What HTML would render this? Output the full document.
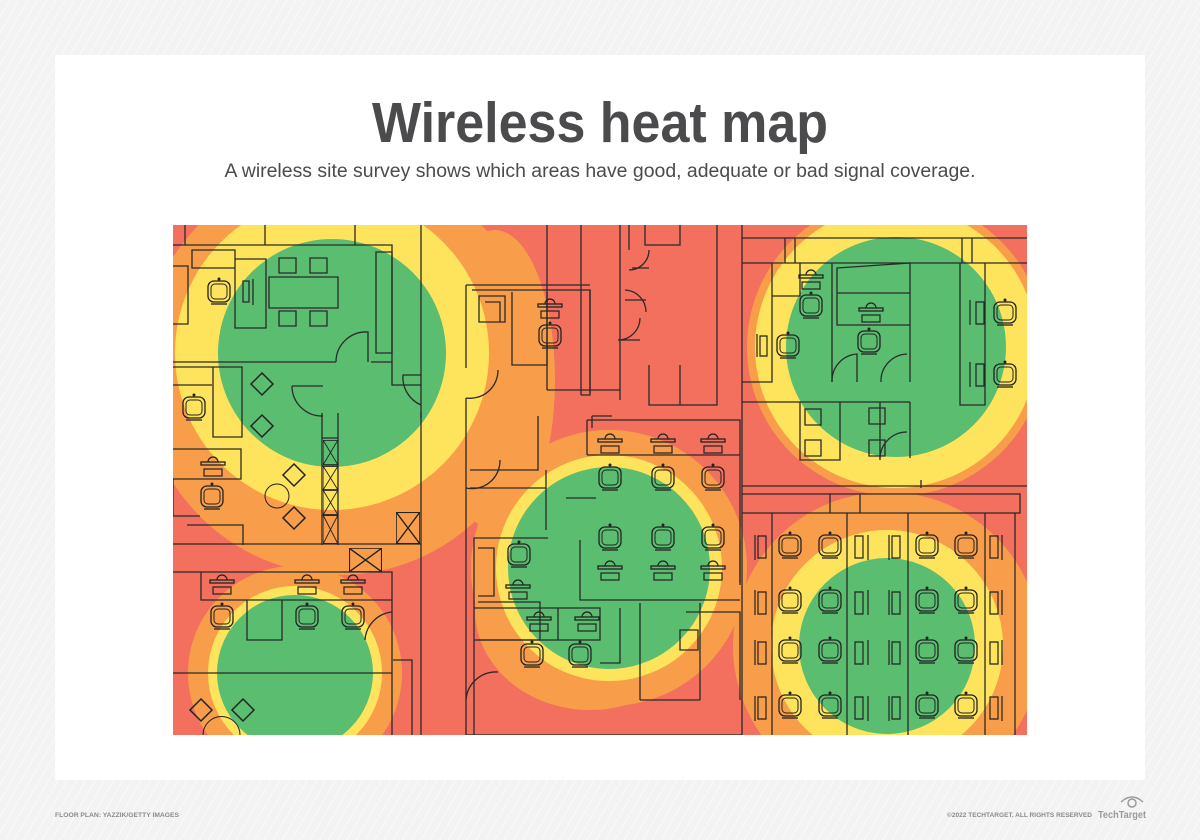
<!DOCTYPE html>
<html><head><meta charset="utf-8"><style>
html,body{margin:0;padding:0;width:1200px;height:840px;overflow:hidden;background:#f2f3f2;}
svg{display:block}
</style></head><body>
<svg width="1200" height="840" viewBox="0 0 1200 840" xmlns="http://www.w3.org/2000/svg">
<defs>
<pattern id="hatch" width="8" height="8" patternUnits="userSpaceOnUse" patternTransform="rotate(30)">
<rect width="8" height="8" fill="#f2f3f2"/><line x1="0" y1="0" x2="0" y2="8" stroke="#fafafa" stroke-width="2"/>
</pattern>
<clipPath id="mapclip"><rect x="173" y="225" width="854" height="510"/></clipPath>
<symbol id="chair" viewBox="-14 -14 28 28" overflow="visible">
<rect x="-11" y="-11" width="22" height="21" rx="6" fill="none" stroke="#222" stroke-width="1.3"/>
<rect x="-8" y="-8" width="16" height="15" rx="4" fill="none" stroke="#222" stroke-width="1"/>
<line x1="-8" y1="12" x2="8" y2="12" stroke="#222" stroke-width="1.3"/>
<circle cx="0" cy="-13" r="1.5" fill="#222"/>
</symbol>
<symbol id="desk" viewBox="-20 -14 40 28" overflow="visible">
<path d="M-5,-4 A5,5 0 0 1 5,-4" fill="none" stroke="#222" stroke-width="1.2"/>
<rect x="-12" y="-4" width="24" height="3" fill="none" stroke="#222" stroke-width="1.3"/>
<rect x="-9" y="3" width="18" height="7" fill="none" stroke="#222" stroke-width="1.2"/>
</symbol>
<symbol id="xbox" viewBox="0 0 20 20" preserveAspectRatio="none">
<rect x="0" y="0" width="20" height="20" fill="none" stroke="#222" stroke-width="1.3"/>
<line x1="0" y1="0" x2="20" y2="20" stroke="#222" stroke-width="1"/><line x1="20" y1="0" x2="0" y2="20" stroke="#222" stroke-width="1"/>
</symbol>
</defs>
<rect width="1200" height="840" fill="url(#hatch)"/>
<rect x="55" y="55" width="1090" height="725" fill="#ffffff"/>

<text x="600" y="142" text-anchor="middle" font-family="Liberation Sans, sans-serif" font-weight="bold" font-size="57" fill="#4b4b4d" textLength="456" lengthAdjust="spacingAndGlyphs">Wireless heat map</text>
<text x="600" y="177" text-anchor="middle" font-family="Liberation Sans, sans-serif" font-size="19" fill="#4b4b4d" textLength="751" lengthAdjust="spacingAndGlyphs">A wireless site survey shows which areas have good, adequate or bad signal coverage.</text>

<g clip-path="url(#mapclip)">
<rect x="173" y="225" width="854" height="510" fill="#f2705d"/>
<g fill="#f89e4a">
<ellipse cx="340" cy="370" rx="200" ry="205"/>
<ellipse cx="495" cy="380" rx="60" ry="150"/>
<circle cx="609" cy="568" r="138"/>
<ellipse cx="590" cy="610" rx="115" ry="100"/>
<circle cx="295" cy="673" r="107"/>
<circle cx="887" cy="646" r="154"/>
<circle cx="896" cy="347" r="149"/>
</g>
<g fill="#fee45c">
<circle cx="332" cy="353" r="157"/>
<circle cx="609" cy="568" r="113"/>
<circle cx="295" cy="673" r="87"/>
<circle cx="887" cy="646" r="116"/>
<circle cx="896" cy="347" r="141"/>
</g>
<g fill="#5abd70">
<circle cx="332" cy="353" r="114"/>
<circle cx="609" cy="568" r="101"/>
<circle cx="295" cy="673" r="78"/>
<circle cx="887" cy="646" r="88"/>
<circle cx="896" cy="347" r="110"/>
</g>

<g fill="none" stroke="#2a2a2a" stroke-width="1.3">
<path d="M173,245 H392 V365 M185,225 V245 M265,225 V245 M355,225 V245 M421,225 V735"/>
<path d="M173,362 H336 M371,362 H392 M392,365 V385 H421"/>
<path d="M376,252 H392 V353 H376 Z"/>
<path d="M235,259 H266 V328 H235 Z M269,277 H338 V308 H269 Z M192,250 H235 V268 H192 Z M173,266 H188 V324 H173"/>
<path d="M279,258 H296 V273 H279 Z M310,258 H327 V273 H310 Z M279,311 H296 V326 H279 Z M310,311 H327 V326 H310 Z"/>
<path d="M243,281 H249 V302 H243 Z M253,279 V305"/>
<path d="M336,362 A30,30 0 0 1 368,332 V362"/>
<path d="M173,367 H242 V437 H213 V367 M173,385 H212"/>
<path d="M173,449 H241 V479 H173 M173,479 V516 H200 M187,525 H243 V545"/>
<path d="M292,386 A30,30 0 0 0 323,416 M292,386 H323"/>
<path d="M421,375 H403 A30,30 0 0 0 421,405 M421,418 V412"/>
<path d="M322,413 V545 M338,413 V545 M322,438 H338 M322,466 H338 M322,490 H338 M322,515 H338"/>
<path d="M173,544 H421 M173,572 H392 V735 M173,673 H392 M201,572 V600 H392"/>
<path d="M247,600 V640 H282 V600"/>
<path d="M365,640 A30,30 0 0 1 392,612 M393,660 H412 V735"/>
<path d="M466,285 V368 M466,398 V735 M466,285 H590 M472,290 H590 V393 M512,292 V365 H547 V292"/>
<path d="M479,296 H505 V322 H479 Z M485,302 H500 V322"/>
<path d="M466,398 A28,28 0 0 0 498,370 M466,488 A28,28 0 0 0 500,460"/>
<path d="M547,225 V390 M590,290 V395 H581 M581,225 V395"/>
<path d="M547,390 H620 M620,225 V400 M625,300 H646 M646,312 A22,22 0 0 0 625,290"/>
<path d="M629,225 V250 M645,225 V245 H680 V225 M649,250 A20,20 0 0 1 629,270 M640,318 A22,22 0 0 1 618,340 H640"/>
<path d="M649,365 V405 H717 V225 M680,365 V405 M632,268 H649"/>
<path d="M538,416 V470 H470 M470,488 H546 V530 M546,470 V530"/>
<path d="M592,416 V428 M592,416 H612 M587,420 H740 V583 M587,455 H740 M587,420 V455"/>
<path d="M596,498 H566 M548,538 H474 V760 M478,548 H494 V596 H478 M478,602 H540 V640 H478 M580,540 V600 H740 M740,540 V585"/>
<path d="M474,608 H600 V640 H474 M558,608 V640 M620,608 V663 H600 M640,603 V700 M640,700 H700 M700,603 V700 M686,612 H740 V700"/>
<path d="M680,630 H698 V650 H680 Z"/>
<path d="M466,700 A30,30 0 0 1 498,672 M466,735 H742"/>
<path d="M742,225 V735 M742,238 H1027 M742,263 H1027 M785,238 V263 M795,238 V263 M962,238 V263 M972,238 V263"/>
<path d="M772,263 V382 H742 M742,402 H910 M800,263 V296 H772 M832,263 V382 M837,268 L910,263 V325 H837 Z M837,293 H910 M910,263 V382"/>
<path d="M832,382 A27,27 0 0 1 857,354 V382 M881,382 A27,27 0 0 1 907,354"/>
<path d="M800,402 V460 H840 V402 M880,402 V460 M910,402 V458"/>
<path d="M805,409 H821 V425 H805 Z M805,440 H821 V456 H805 Z M869,408 H885 V424 H869 Z M869,440 H885 V456 H869 Z"/>
<path d="M960,263 V405 H985 V263 M985,263 V405"/>
<path d="M880,458 A27,27 0 0 1 907,432 M742,486 H1027 M921,480 V488"/>
<path d="M742,494 H1020 V513 H742 M830,494 V513 M860,494 V513"/>
<path d="M772,513 V735 M847,513 V735 M908,513 V735 M985,513 V735 M1015,513 V735"/>
</g>

<g fill="none" stroke="#222" stroke-width="1.2">
<path d="M755,535 V560 M758,536 h8 v22 h-8 z M755,590 V615 M758,592 h8 v22 h-8 z M755,640 V665 M758,642 h8 v22 h-8 z M755,696 V721 M758,697 h8 v22 h-8 z"/>
<path d="M868,535 V560 M855,536 h8 v22 h-8 z M868,590 V615 M855,592 h8 v22 h-8 z M868,640 V665 M855,642 h8 v22 h-8 z M868,696 V721 M855,697 h8 v22 h-8 z"/>
<path d="M889,535 V560 M892,536 h8 v22 h-8 z M889,590 V615 M892,592 h8 v22 h-8 z M889,640 V665 M892,642 h8 v22 h-8 z M889,696 V721 M892,697 h8 v22 h-8 z"/>
<path d="M1002,535 V560 M990,536 h8 v22 h-8 z M1002,590 V615 M990,592 h8 v22 h-8 z M1002,640 V665 M990,642 h8 v22 h-8 z M1002,696 V721 M990,697 h8 v22 h-8 z"/>
<path d="M970,300 V325 M976,302 h8 v22 h-8 z M970,362 V387 M976,364 h8 v22 h-8 z M757,334 V357 M760,336 h7 v20 h-7 z"/>
</g>

<g>
<use href="#chair" x="205" y="278" width="28" height="28"/>
<use href="#chair" x="180" y="394" width="28" height="28"/>
<use href="#chair" x="198" y="483" width="28" height="28"/>
<use href="#chair" x="536" y="322" width="28" height="28"/>
<use href="#chair" x="596" y="464" width="28" height="28"/>
<use href="#chair" x="649" y="464" width="28" height="28"/>
<use href="#chair" x="699" y="464" width="28" height="28"/>
<use href="#chair" x="596" y="524" width="28" height="28"/>
<use href="#chair" x="649" y="524" width="28" height="28"/>
<use href="#chair" x="699" y="524" width="28" height="28"/>
<use href="#chair" x="505" y="541" width="28" height="28"/>
<use href="#chair" x="518" y="641" width="28" height="28"/>
<use href="#chair" x="566" y="641" width="28" height="28"/>
<use href="#chair" x="208" y="603" width="28" height="28"/>
<use href="#chair" x="293" y="603" width="28" height="28"/>
<use href="#chair" x="339" y="603" width="28" height="28"/>
<use href="#chair" x="797" y="292" width="28" height="28"/>
<use href="#chair" x="774" y="332" width="28" height="28"/>
<use href="#chair" x="855" y="328" width="28" height="28"/>
<use href="#chair" x="991" y="299" width="28" height="28"/>
<use href="#chair" x="991" y="361" width="28" height="28"/>
<use href="#chair" x="776" y="532" width="28" height="28"/><use href="#chair" x="816" y="532" width="28" height="28"/><use href="#chair" x="913" y="532" width="28" height="28"/><use href="#chair" x="952" y="532" width="28" height="28"/>
<use href="#chair" x="776" y="587" width="28" height="28"/><use href="#chair" x="816" y="587" width="28" height="28"/><use href="#chair" x="913" y="587" width="28" height="28"/><use href="#chair" x="952" y="587" width="28" height="28"/>
<use href="#chair" x="776" y="637" width="28" height="28"/><use href="#chair" x="816" y="637" width="28" height="28"/><use href="#chair" x="913" y="637" width="28" height="28"/><use href="#chair" x="952" y="637" width="28" height="28"/>
<use href="#chair" x="776" y="692" width="28" height="28"/><use href="#chair" x="816" y="692" width="28" height="28"/><use href="#chair" x="913" y="692" width="28" height="28"/><use href="#chair" x="952" y="692" width="28" height="28"/>
</g>
<g>
<use href="#desk" x="193" y="452" width="40" height="28"/>
<use href="#desk" x="530" y="294" width="40" height="28"/>
<use href="#desk" x="590" y="429" width="40" height="28"/>
<use href="#desk" x="643" y="429" width="40" height="28"/>
<use href="#desk" x="693" y="429" width="40" height="28"/>
<use href="#desk" x="202" y="570" width="40" height="28"/>
<use href="#desk" x="287" y="570" width="40" height="28"/>
<use href="#desk" x="333" y="570" width="40" height="28"/>
<use href="#desk" x="519" y="607" width="40" height="28"/>
<use href="#desk" x="567" y="607" width="40" height="28"/>
<use href="#desk" x="791" y="265" width="40" height="28"/>
<use href="#desk" x="851" y="298" width="40" height="28"/>
<use href="#desk" x="590" y="556" width="40" height="28"/>
<use href="#desk" x="643" y="556" width="40" height="28"/>
<use href="#desk" x="693" y="556" width="40" height="28"/>
<use href="#desk" x="498" y="575" width="40" height="28"/>
</g>
<g fill="none" stroke="#222" stroke-width="1.5">
<path d="M262,373 l11,11 -11,11 -11,-11 z M262,415 l11,11 -11,11 -11,-11 z M294,464 l11,11 -11,11 -11,-11 z M294,507 l11,11 -11,11 -11,-11 z M201,699 l11,11 -11,11 -11,-11 z M243,699 l11,11 -11,11 -11,-11 z"/>
<circle cx="277" cy="496" r="12" stroke-width="1"/>
<path d="M203,735 A17,17 0 0 1 240,735" stroke-width="1"/>
</g>
<use href="#xbox" x="323" y="440" width="15" height="25"/>
<use href="#xbox" x="323" y="466" width="15" height="24"/>
<use href="#xbox" x="323" y="490" width="15" height="25"/>
<use href="#xbox" x="323" y="515" width="15" height="29"/>
<use href="#xbox" x="396" y="512" width="24" height="32"/>
<use href="#xbox" x="349" y="548" width="33" height="24"/>
</g>

<text x="55" y="817" font-family="Liberation Sans, sans-serif" font-weight="bold" font-size="6.5" fill="#8a8a8a" textLength="124" lengthAdjust="spacingAndGlyphs">FLOOR PLAN: YAZZIK/GETTY IMAGES</text>
<text x="1092" y="817" text-anchor="end" font-family="Liberation Sans, sans-serif" font-weight="bold" font-size="6.5" fill="#8a8a8a" textLength="145" lengthAdjust="spacingAndGlyphs">©2022 TECHTARGET. ALL RIGHTS RESERVED</text>
<text x="1098" y="818" font-family="Liberation Sans, sans-serif" font-weight="bold" font-size="10" fill="#9a9a9a" textLength="48" lengthAdjust="spacingAndGlyphs">TechTarget</text>
<g fill="none" stroke="#9a9a9a" stroke-width="1.5">
<path d="M1121,802 Q1132,792 1143,802"/><circle cx="1132" cy="803" r="4"/>
</g>
</svg>
</body></html>
